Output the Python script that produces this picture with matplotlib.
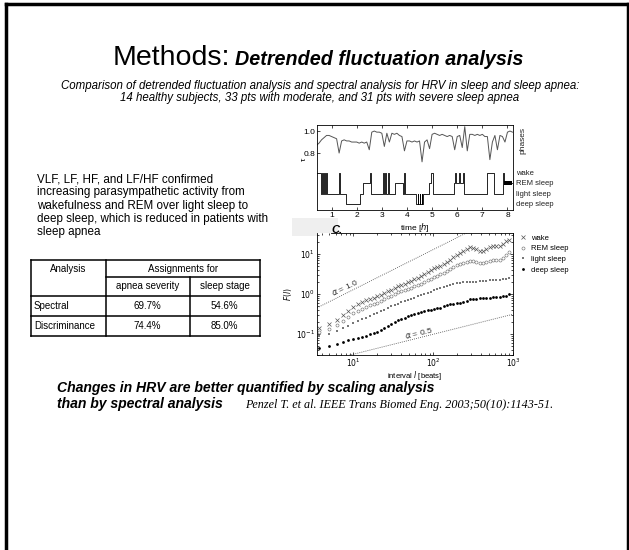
import numpy as np
import matplotlib
matplotlib.use("Agg")
from matplotlib import pyplot as plt
from matplotlib.patches import Rectangle

plt.rcParams['font.family'] = ['Liberation Sans', 'DejaVu Sans']

# ---- data: top panel (tau and sleep phases over the night) ----
tau_t = np.round(np.arange(0.4, 8.21, 0.1), 2)
tau = [0.87, 0.89, 0.92, 0.94, 0.96, 0.96, 0.95, 0.94, 0.93, 0.80,
       0.91, 0.92, 0.91, 0.91, 0.90, 0.90, 0.90, 0.89, 0.90, 0.89,
       0.90, 0.83, 0.99, 1.00, 0.99, 0.99, 0.98, 0.86, 0.98, 0.90,
       0.98, 0.97, 0.98, 0.96, 0.95, 0.82, 0.91, 0.91, 0.90, 0.91,
       0.90, 0.91, 0.72, 0.90, 0.92, 0.84, 0.97, 0.98, 0.97, 0.96,
       0.97, 0.96, 0.95, 0.96, 0.95, 0.83, 0.95, 0.96, 0.85, 1.04,
       0.82, 0.97, 0.97, 0.96, 0.97, 0.96, 0.97, 0.95, 0.95, 0.74,
       0.90, 0.96, 0.83, 0.96, 0.95, 0.90, 0.99, 1.00, 0.99]

# 0 wake, 1 REM, 2 light, 3 deep
hyp_t = [0.42, 0.58, 0.62, 0.66, 0.70, 0.73, 0.77, 0.80, 1.28, 1.33, 1.58,
         2.15, 2.24, 2.52, 2.56, 3.03, 3.07, 3.12, 3.16, 3.23, 3.27, 3.51,
         3.83, 3.88, 3.92, 4.35, 4.42, 4.45, 4.50, 4.53, 4.58, 4.60, 4.64,
         4.86, 4.95, 5.03, 5.88, 5.93, 5.96, 6.08, 6.12, 6.22, 6.26, 7.20,
         7.45, 7.82, 7.87, 8.20]
hyp_s = [0, 2, 0, 2, 0, 2, 0, 2, 0, 2, 3,
         2, 1, 0, 2, 0, 2, 0, 2, 0, 2, 1,
         2, 0, 2, 3, 2, 3, 2, 3, 2, 3, 2,
         1, 0, 2, 1, 0, 1, 0, 1, 0, 2, 0,
         2, 0, 1, 1]
phases = ['wake', 'REM sleep', 'light sleep', 'deep sleep']

# ---- data: bottom panel (DFA fluctuation function) ----
n = [3.7, 4.9, 6.2, 7.4, 8.6, 10, 11.4, 12.9, 14.5, 16.2, 18, 20, 22, 24.5,
     27, 30, 33, 36.5, 40, 44, 48.5, 53, 58, 64, 70, 77, 85, 93, 102, 112,
     123, 135, 148, 163, 179, 197, 216, 238, 262, 288, 316, 348, 383, 421,
     463, 509, 560, 616, 678, 745, 820, 900]
F_wake = [0.141, 0.178, 0.229, 0.302, 0.380, 0.479, 0.550, 0.631, 0.692, 0.759,
          0.813, 0.871, 0.955, 1.07, 1.17, 1.29, 1.41, 1.55, 1.70, 1.82, 2.00,
          2.14, 2.34, 2.57, 2.82, 3.16, 3.55, 3.89, 4.37, 4.68, 5.13, 5.62,
          6.31, 7.24, 8.32, 9.33, 10.5, 11.7, 13.2, 14.8, 14.5, 13.2, 12.0,
          12.0, 13.5, 14.8, 15.8, 15.5, 16.2, 18.2, 20.9, 22.9]
F_rem = [0.112, 0.132, 0.166, 0.209, 0.263, 0.331, 0.380, 0.427, 0.479, 0.525,
         0.562, 0.603, 0.676, 0.741, 0.832, 0.912, 1.00, 1.10, 1.17, 1.26, 1.35,
         1.45, 1.55, 1.66, 1.82, 2.00, 2.19, 2.40, 2.69, 2.88, 3.09, 3.39,
         3.72, 4.17, 4.68, 5.25, 5.62, 6.03, 6.46, 6.76, 6.76, 6.31, 5.89,
         5.89, 6.17, 6.61, 6.92, 7.08, 7.24, 7.94, 9.55, 11.5]
F_light = [0.0891, 0.100, 0.117, 0.138, 0.158, 0.186, 0.209, 0.234, 0.257, 0.288,
           0.309, 0.339, 0.372, 0.407, 0.447, 0.490, 0.537, 0.575, 0.631, 0.676,
           0.708, 0.759, 0.813, 0.871, 0.933, 1.00, 1.07, 1.15, 1.26, 1.35,
           1.45, 1.51, 1.58, 1.66, 1.78, 1.86, 1.91, 1.95, 2.00, 2.04, 2.04,
           2.04, 2.09, 2.14, 2.14, 2.19, 2.19, 2.24, 2.29, 2.34, 2.40, 2.51]
F_deep = [0.0447, 0.0501, 0.0575, 0.0631, 0.0692, 0.0741, 0.0794, 0.0851, 0.0912,
          0.100, 0.107, 0.115, 0.126, 0.138, 0.158, 0.178, 0.200, 0.219, 0.240,
          0.257, 0.282, 0.302, 0.316, 0.339, 0.355, 0.372, 0.389, 0.407, 0.417,
          0.437, 0.457, 0.490, 0.525, 0.550, 0.562, 0.589, 0.603, 0.631, 0.661,
          0.741, 0.759, 0.759, 0.776, 0.794, 0.794, 0.813, 0.832, 0.832, 0.851,
          0.871, 0.912, 1.0]

# ---- data: table ----
tab_rows = ['Spectral', 'Discriminance']
tab_cols = ['apnea severity', 'sleep stage']
tab_vals = [['69.7%', '54.6%'], ['74.4%', '85.0%']]

body = ["VLF, LF, HF, and LF/HF confirmed",
        "increasing parasympathetic activity from",
        "wakefulness and REM over light sleep to",
        "deep sleep, which is reduced in patients with",
        "sleep apnea"]

W, H = 629, 550
fig = plt.figure(figsize=(W / 100, H / 100), dpi=100)

# overlay in pixel coordinates for slide text
bg = fig.add_axes([0, 0, 1, 1])
bg.set_xlim(0, W)
bg.set_ylim(H, 0)
bg.axis('off')

# slide frame
bg.plot([5.5, 5.5], [H, 3.5], color='black', lw=2.5)
bg.plot([5.5, 627.5], [3.5, 3.5], color='black', lw=2.5)
bg.plot([627.5, 627.5], [3.5, H], color='black', lw=2.5)

bg.text(230, 65, "Methods:", fontsize=20.5, ha='right', va='baseline')
bg.text(235, 65, "Detrended fluctuation analysis", fontsize=14.2, fontweight='bold',
        fontstyle='italic', ha='left', va='baseline')
bg.text(320, 89, "Comparison of detrended fluctuation analysis and spectral analysis "
        "for HRV in sleep and sleep apnea:", fontsize=8.3, fontstyle='italic',
        ha='center', va='baseline')
bg.text(320, 101, "14 healthy subjects, 33 pts with moderate, and 31 pts with severe "
        "sleep apnea", fontsize=8.3, fontstyle='italic', ha='center', va='baseline')

for i, line in enumerate(body):
    bg.text(37, 182 + i * 13.3, line, fontsize=8.35, ha='left', va='baseline')

# table
tl, c1, c2, tr = 31, 105.5, 189.5, 260
rt, rh, r1, r2, rb = 259.5, 276.5, 296, 316, 335.5
lk = dict(color='black', lw=1.1, solid_capstyle='projecting')
for y in [rt, r1, r2, rb]:
    bg.plot([tl, tr], [y, y], **lk)
bg.plot([c1, tr], [rh, rh], **lk)
for x in [tl, c1, tr]:
    bg.plot([x, x], [rt, rb], **lk)
bg.plot([c2, c2], [rh, rb], **lk)
tk = dict(fontsize=7, va='center')
bg.text((tl + c1) / 2, (rt + rh) / 2 + 1, "Analysis", ha='center', **tk)
bg.text((c1 + tr) / 2, (rt + rh) / 2 + 1, "Assignments for", ha='center', **tk)
bg.text((c1 + c2) / 2, (rh + r1) / 2, tab_cols[0], ha='center', **tk)
bg.text((c2 + tr) / 2, (rh + r1) / 2, tab_cols[1], ha='center', **tk)
for i, (name, vals) in enumerate(zip(tab_rows, tab_vals)):
    yc = (r1 + r2) / 2 if i == 0 else (r2 + rb) / 2
    bg.text(tl + 3, yc, name, ha='left', **tk)
    bg.text((c1 + c2) / 2, yc, vals[0], ha='center', **tk)
    bg.text((c2 + tr) / 2, yc, vals[1], ha='center', **tk)

bg.text(57, 392, "Changes in HRV are better quantified by scaling analysis",
        fontsize=10.05, fontweight='bold', fontstyle='italic', va='baseline')
bg.text(57, 408, "than by spectral analysis", fontsize=10.05, fontweight='bold',
        fontstyle='italic', va='baseline')
bg.text(245, 408, "Penzel T. et al. IEEE Trans Biomed Eng. 2003;50(10):1143-51.",
        fontsize=8.7, fontstyle='italic', family='Liberation Serif', va='baseline')

# light grey patch behind panel label
bg.add_patch(Rectangle((292, 218), 46, 18, color='#efefef', lw=0))

def px_axes(x0, y0, x1, y1):
    return fig.add_axes([x0 / W, 1 - y1 / H, (x1 - x0) / W, (y1 - y0) / H])

# ---- top panel ----
levels = [0.618, 0.527, 0.427, 0.336]
ax1 = px_axes(317, 125, 513, 210)
ax1.plot(tau_t, tau, color='#555555', lw=0.7)
hyp_y = [levels[s] for s in hyp_s]
ax1.step(hyp_t, hyp_y, where='post', color='black', lw=0.6)
rem = np.array(hyp_s) == 1
ax1.fill_between(hyp_t, levels[1] - 0.02, levels[1] + 0.02, where=rem,
                 step='post', color='black', lw=0)
ax1.set_xlim(0.42, 8.22)
ax1.set_ylim(0.282, 1.055)
ax1.set_xticks(range(1, 9))
ax1.set_yticks([0.8, 1.0])
ax1.set_yticklabels(['0.8', '1.0'])
ax1.tick_params(direction='in', labelsize=6, length=2, width=0.5, pad=1.5,
                top=True)
ax1.set_xlabel('time [$h$]', fontsize=6)
ax1.xaxis.set_label_coords(0.5, -0.125)
ax1.set_ylabel('τ', fontsize=6, labelpad=2)
ax1.yaxis.set_label_coords(-0.045, 0.6)
for sp in ax1.spines.values():
    sp.set_linewidth(0.6)
for lv, name in zip(levels, phases):
    ax1.text(1.015, (lv - 0.282) / (1.055 - 0.282), name, transform=ax1.transAxes,
             fontsize=5.5, va='center', ha='left', color='#222222')
ax1.text(1.05, 0.82, 'phases', transform=ax1.transAxes, rotation=90,
         fontsize=6, va='center', ha='center', color='#222222')

# ---- bottom panel ----
alpha_lines = [(1.0, 0.129), (0.5, 0.0099)]
ax2 = px_axes(317, 233, 513, 355)
lx = np.array([3.5, 1000])
for a, c in alpha_lines:
    ax2.plot(lx, c * lx ** a, ls=(0, (1, 1.5)), color='#444444', lw=0.6)
ax2.plot(n, F_wake, 'x', ms=2.2, mew=0.5, color='#555555', label='wake')
ax2.plot(n, F_rem, 'o', ms=2.2, mew=0.4, mfc='white', mec='#666666', label='REM sleep')
ax2.plot(n, F_light, 's', ms=1.5, mew=0, color='#777777', label='light sleep')
ax2.plot(n, F_deep, 'o', ms=2.0, mew=0, color='black', label='deep sleep')
ax2.set_xscale('log')
ax2.set_yscale('log')
ax2.set_xlim(3.5, 1000)
ax2.set_ylim(0.03, 33.5)
ax2.set_xticks([10, 100, 1000])
ax2.set_xticklabels(['$10^1$', '$10^2$', '$10^3$'])
ax2.set_yticks([0.1, 1, 10])
ax2.set_yticklabels(['$10^{-1}$', '$10^0$', '$10^1$'])
ax2.tick_params(which='both', direction='in', labelsize=5.5, length=2, width=0.5,
                pad=1.5, top=True, right=True)
ax2.tick_params(which='minor', length=1.2)
ax2.set_xlabel('interval $l$ [beats]', fontsize=5.5)
ax2.xaxis.set_label_coords(0.5, -0.115)
ax2.set_ylabel('$F(l)$', fontsize=5.5, labelpad=1)
for sp in ax2.spines.values():
    sp.set_linewidth(0.6)
ax2.spines['top'].set_bounds(5.2, 1000)
ax2.text(7.7, 1.41, '$\\alpha$ = 1.0', rotation=26, fontsize=6, color='#333333',
         ha='center', va='center')
ax2.text(65, 0.106, '$\\alpha$ = 0.5', rotation=14, fontsize=6, color='#333333',
         ha='center', va='center')
ax2.legend(loc='upper left', bbox_to_anchor=(1.0, 1.04), frameon=False,
           fontsize=5.5, handlelength=1.0, handletextpad=0.6, labelspacing=0.45,
           borderpad=0.3)
bg.text(331, 233, "C.", fontsize=8, fontweight='bold', fontstyle='italic',
        va='baseline', zorder=5)

fig.savefig('out.png', dpi=100)
